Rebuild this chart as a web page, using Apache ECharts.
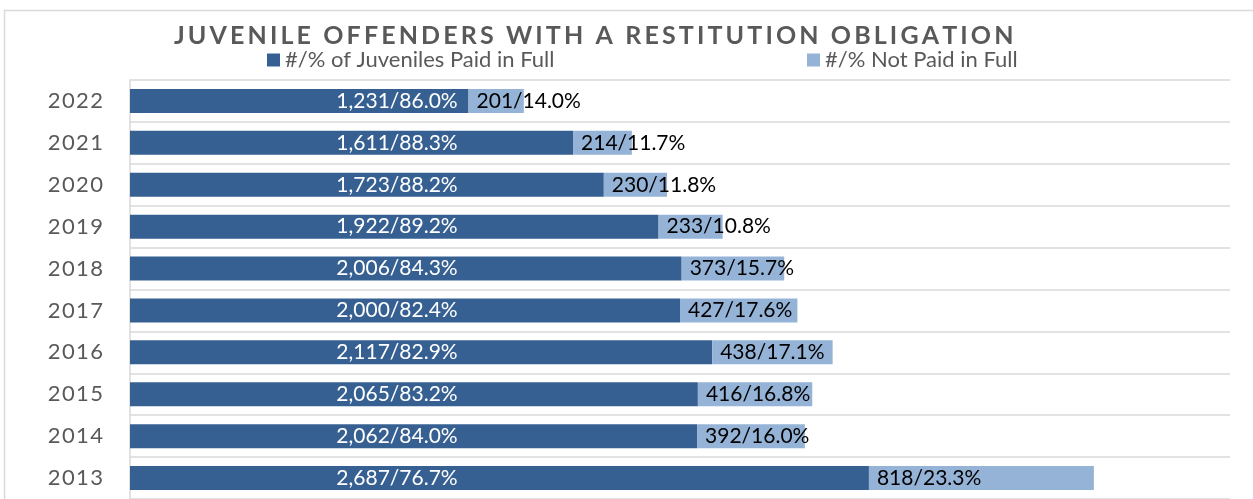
<!DOCTYPE html>
<html>
<head>
<meta charset="utf-8">
<script src="https://cdn.jsdelivr.net/npm/echarts@6/dist/echarts.min.js"></script>
<style>
  html, body { margin: 0; padding: 0; background: #fff; }
  #chart { width: 1253px; height: 499px; }
</style>
</head>
<body>
<div id="chart"></div>
<script>
// data, oldest year first (category axis puts the first one at the bottom)
const years = ['2013', '2014', '2015', '2016', '2017', '2018', '2019', '2020', '2021', '2022'];
const paidInFull = [2687, 2062, 2065, 2117, 2000, 2006, 1922, 1723, 1611, 1231];
const paidPct = [76.7, 84.0, 83.2, 82.9, 82.4, 84.3, 89.2, 88.2, 88.3, 86.0];
const notPaid = [818, 392, 416, 438, 427, 373, 233, 230, 214, 201];
const notPaidPct = [23.3, 16.0, 16.8, 17.1, 17.6, 15.7, 10.8, 11.8, 11.7, 14.0];

const seriesNames = ['#/% of Juveniles Paid in Full', '#/% Not Paid in Full'];
const titleText = 'JUVENILE OFFENDERS WITH A RESTITUTION OBLIGATION';

const FONT = 'Lato';
const spaced = (s, sep) => s.split('').join(sep);
const fmt = (n, pct) => n.toLocaleString('en-US') + '/' + pct.toFixed(1) + '%';

const chart = echarts.init(document.getElementById('chart'));

chart.setOption({
  backgroundColor: '#fff',
  animation: false,
  title: {
    text: spaced(titleText, '\u2009'),
    left: 169,
    top: 18,
    textStyle: { fontFamily: FONT, fontSize: 25, fontWeight: 'bold', color: '#595959' }
  },
  legend: [
    {
      data: [seriesNames[0]], left: 262, top: 44,
      icon: 'rect', itemWidth: 13, itemHeight: 13,
      textStyle: { fontFamily: FONT, fontSize: 22, color: '#595959' }
    },
    {
      data: [seriesNames[1]], left: 802, top: 44,
      icon: 'rect', itemWidth: 13, itemHeight: 13,
      textStyle: { fontFamily: FONT, fontSize: 22, color: '#595959' }
    }
  ],
  grid: { left: 130, right: 23, top: 80, height: 420 },
  xAxis: {
    type: 'value', min: 0, max: 4000,
    show: false
  },
  yAxis: {
    type: 'category',
    data: years,
    axisLine: { show: true, lineStyle: { color: '#d9d9d9', width: 1.5 } },
    axisTick: { show: false },
    splitLine: { show: true, lineStyle: { color: '#d9d9d9', width: 1.5 } },
    axisLabel: {
      margin: 27,
      fontFamily: FONT, fontSize: 22, color: '#595959',
      formatter: (v) => spaced(v, '\u200A')
    }
  },
  graphic: [{
    type: 'rect', silent: true, z: -1,
    shape: { x: 4.5, y: 10.5, width: 1300, height: 600 },
    style: { fill: 'none', stroke: '#d9d9d9', lineWidth: 1.5 }
  }],
  series: [
    {
      name: seriesNames[0],
      type: 'bar',
      stack: 'total',
      barWidth: 24,
      data: paidInFull,
      itemStyle: { color: '#366092' },
      label: {
        show: true,
        position: [267, '50%'],
        align: 'center',
        verticalAlign: 'middle',
        fontFamily: FONT, fontSize: 21, color: '#fff',
        formatter: (p) => fmt(paidInFull[p.dataIndex], paidPct[p.dataIndex])
      }
    },
    {
      name: seriesNames[1],
      type: 'bar',
      stack: 'total',
      barWidth: 24,
      data: notPaid,
      itemStyle: { color: '#95b3d7' },
      label: {
        show: true,
        position: 'insideLeft',
        distance: 8,
        fontFamily: FONT, fontSize: 21, color: '#000',
        formatter: (p) => fmt(notPaid[p.dataIndex], notPaidPct[p.dataIndex])
      }
    }
  ]
});
</script>
</body>
</html>
